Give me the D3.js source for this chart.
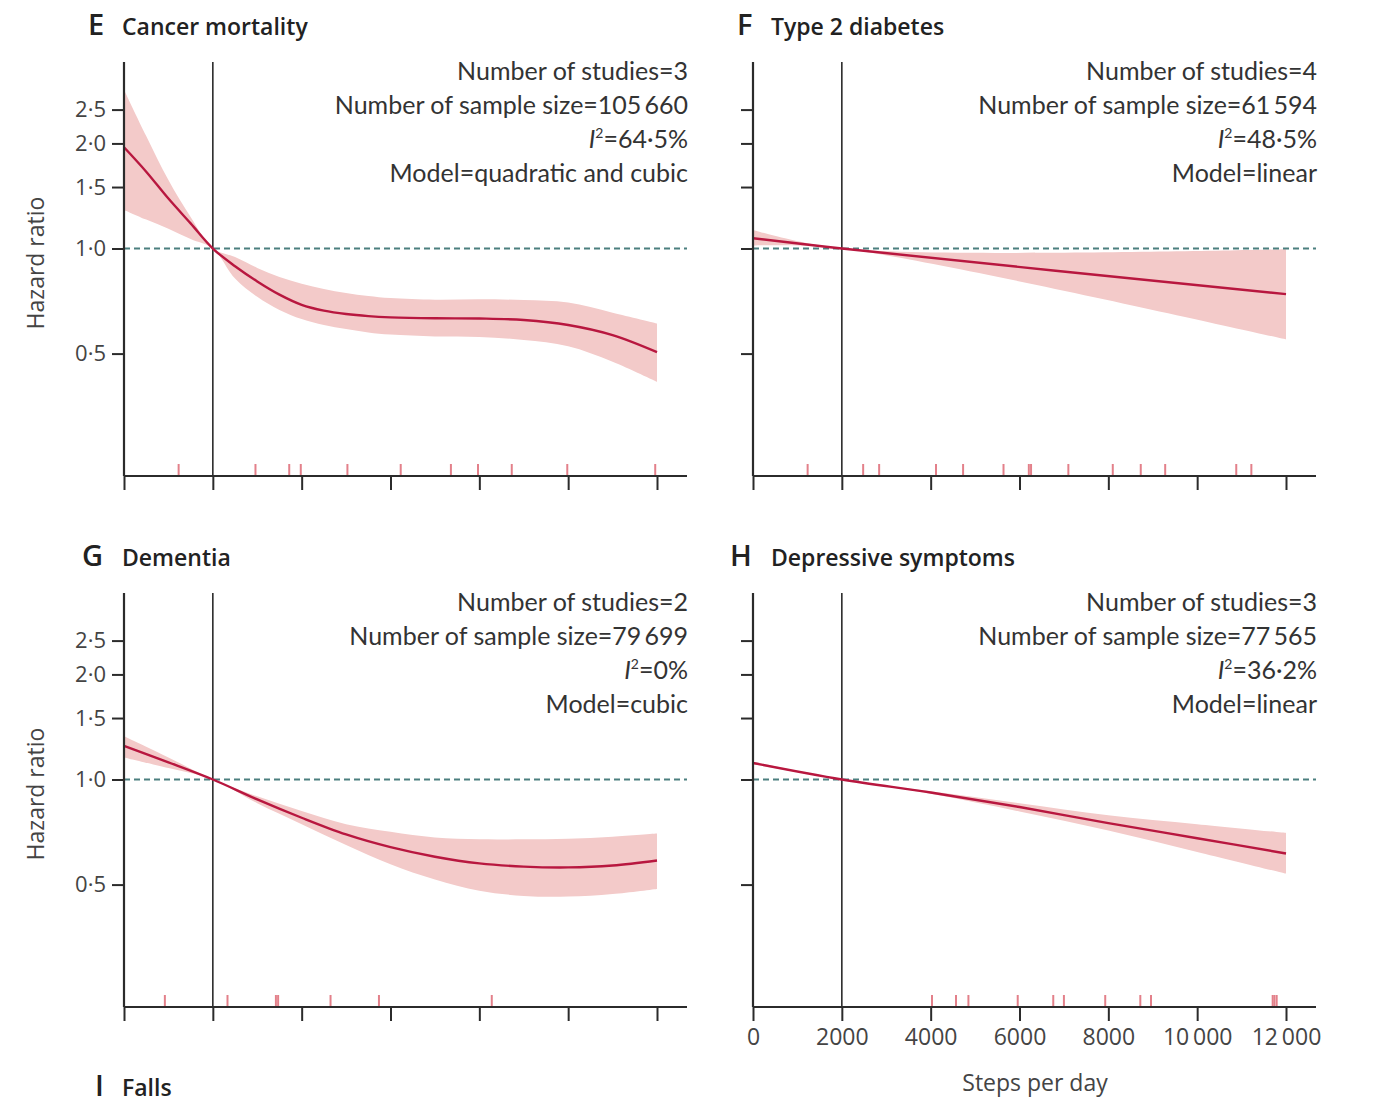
<!DOCTYPE html>
<html lang="en">
<head>
<meta charset="utf-8">
<title>Steps per day and hazard ratio</title>
<script src="https://cdn.jsdelivr.net/npm/d3@7"></script>
<style>
  body { margin: 0; background: #fff; }
  svg text { font-family: "Open Sans", sans-serif; fill: #333; }
  .title { font-weight: 600; }
  .note { font-family: Lato, "Open Sans", sans-serif; }
</style>
</head>
<body>
<svg id="chart" width="1379" height="1119"></svg>
<script>
// ---- data ----
var yTicks = [0.5, 1.0, 1.5, 2.0, 2.5];
var yTickLabels = ["0·5", "1·0", "1·5", "2·0", "2·5"];
var xTicks = [0, 2000, 4000, 6000, 8000, 10000, 12000];
var xTickLabels = ["0", "2000", "4000", "6000", "8000", "10\u2009000", "12\u2009000"];

// E cancer mortality
var cancerSteps = [0, 500, 1000, 1500, 2000, 2500, 3000, 3500, 4000, 4500, 5000, 5500, 6000, 7000, 8000, 9000, 10000, 11000, 12000];
var cancerHR    = [1.95, 1.66, 1.39, 1.18, 1.0, 0.89, 0.805, 0.738, 0.69, 0.664, 0.649, 0.64, 0.635, 0.631, 0.63, 0.624, 0.604, 0.565, 0.505];
var cancerHi    = [2.85, 2.1, 1.57, 1.23, 1.0, 0.945, 0.88, 0.828, 0.792, 0.766, 0.746, 0.731, 0.721, 0.713, 0.715, 0.712, 0.70, 0.655, 0.61];
var cancerLo    = [1.29, 1.21, 1.14, 1.065, 1.0, 0.82, 0.727, 0.667, 0.628, 0.604, 0.588, 0.575, 0.567, 0.56, 0.558, 0.547, 0.525, 0.474, 0.415];
var cancerRug   = [1230, 2960, 3720, 3980, 5030, 6230, 7360, 7970, 8730, 9980, 11960];

// F type 2 diabetes
var diabetesSteps = [0, 2000, 12000];
var diabetesHR    = [1.07, 1.0, 0.74];
var diabetesHi    = [1.13, 1.0, 0.995];
var diabetesLo    = [1.02, 1.0, 0.549];
var diabetesRug   = [1230, 2480, 2840, 4120, 4730, 5640, 6210, 6260, 7100, 8100, 8730, 9280, 10880, 11220];

// G dementia
var dementiaSteps = [0, 1000, 2000, 3000, 4000, 5000, 6000, 7000, 8000, 9000, 10000, 11000, 12000];
var dementiaHR    = [1.248, 1.12, 1.0, 0.877, 0.777, 0.696, 0.64, 0.601, 0.575, 0.563, 0.56, 0.567, 0.586];
var dementiaHi    = [1.33, 1.157, 1.0, 0.895, 0.813, 0.745, 0.708, 0.682, 0.674, 0.674, 0.677, 0.686, 0.70];
var dementiaLo    = [1.157, 1.078, 1.0, 0.855, 0.745, 0.649, 0.572, 0.517, 0.48, 0.464, 0.462, 0.47, 0.486];
var dementiaRug   = [920, 2330, 3420, 3470, 4650, 5740, 8280];

// H depressive symptoms
var depressSteps = [0, 2000, 4000, 6000, 8000, 10000, 12000];
var depressHR    = [1.115, 1.0, 0.918, 0.834, 0.75, 0.679, 0.614];
var depressHi    = [1.125, 1.0, 0.925, 0.855, 0.79, 0.745, 0.703];
var depressLo    = [1.105, 1.0, 0.91, 0.81, 0.714, 0.62, 0.537];
var depressRug   = [4030, 4570, 4850, 5960, 6760, 7000, 7930, 8720, 8960, 11700, 11740, 11790];

var panels = [
  { letter: "E", title: "Cancer mortality", x: 124, y: 62, letterDx: -36, titleDx: -2,
    steps: cancerSteps, hr: cancerHR, hi: cancerHi, lo: cancerLo, rug: cancerRug,
    notes: ["Number of studies=3", "Number of sample size=105\u2009660", "64·5%", "Model=quadratic and cubic"],
    yLabels: true, xLabels: false },
  { letter: "F", title: "Type 2 diabetes", x: 753, y: 62, letterDx: -16, titleDx: 18,
    steps: diabetesSteps, hr: diabetesHR, hi: diabetesHi, lo: diabetesLo, rug: diabetesRug,
    notes: ["Number of studies=4", "Number of sample size=61\u2009594", "48·5%", "Model=linear"],
    yLabels: false, xLabels: false },
  { letter: "G", title: "Dementia", x: 124, y: 593, letterDx: -42, titleDx: -2,
    steps: dementiaSteps, hr: dementiaHR, hi: dementiaHi, lo: dementiaLo, rug: dementiaRug,
    notes: ["Number of studies=2", "Number of sample size=79\u2009699", "0%", "Model=cubic"],
    yLabels: true, xLabels: false },
  { letter: "H", title: "Depressive symptoms", x: 753, y: 593, letterDx: -23, titleDx: 18,
    steps: depressSteps, hr: depressHR, hi: depressHi, lo: depressLo, rug: depressRug,
    notes: ["Number of studies=3", "Number of sample size=77\u2009565", "36·2%", "Model=linear"],
    yLabels: false, xLabels: true }
];

// ---- drawing ----
var svg = d3.select("#chart");
var w = 563, h = 414;

var x = d3.scaleLinear().domain([0, 12000]).range([0, 533]);
var y = d3.scaleLog().domain([0.223, 3.422]).range([h, 0]);

var axisColor = "#2b2b2b";
var lineColor = "#b8173f";
var bandColor = "#f3cac9";
var rugColor = "#e3808a";
var refColor = "#4b7f7f";

panels.forEach(function(p) {
  var g = svg.append("g").attr("transform", "translate(" + p.x + "," + p.y + ")");

  // title
  svg.append("text").attr("class", "title")
    .attr("x", p.x + p.letterDx).attr("y", p.y - 27)
    .attr("font-size", 29).style("fill", "#222")
    .text(p.letter);
  svg.append("text").attr("class", "title")
    .attr("x", p.x + p.titleDx).attr("y", p.y - 27)
    .attr("font-size", 23).style("fill", "#222")
    .text(p.title);

  var pts = p.steps.map(function(s, i) { return { s: s, hr: p.hr[i], hi: p.hi[i], lo: p.lo[i] }; });

  // confidence band
  var area = d3.area()
    .x(function(d) { return x(d.s); })
    .y0(function(d) { return y(d.lo); })
    .y1(function(d) { return y(d.hi); })
    .curve(d3.curveCatmullRom.alpha(0.5));
  g.append("path").datum(pts).attr("d", area).attr("fill", bandColor);

  // reference HR = 1
  g.append("line")
    .attr("x1", 0).attr("x2", w)
    .attr("y1", y(1)).attr("y2", y(1))
    .attr("stroke", refColor).attr("stroke-width", 2)
    .attr("stroke-dasharray", "6,4");

  // reference 2000 steps
  g.append("line")
    .attr("x1", x(2000)).attr("x2", x(2000))
    .attr("y1", 0).attr("y2", h)
    .attr("stroke", axisColor).attr("stroke-width", 1.6);

  // main curve
  var line = d3.line()
    .x(function(d) { return x(d.s); })
    .y(function(d) { return y(d.hr); })
    .curve(d3.curveCatmullRom.alpha(0.5));
  g.append("path").datum(pts).attr("d", line)
    .attr("fill", "none").attr("stroke", lineColor).attr("stroke-width", 2.4);

  // rug of study step values
  g.selectAll(".rug").data(p.rug).enter().append("line")
    .attr("x1", function(d) { return x(d); }).attr("x2", function(d) { return x(d); })
    .attr("y1", h - 12).attr("y2", h)
    .attr("stroke", rugColor).attr("stroke-width", 2);

  // y axis
  var yAxis = d3.axisLeft(y).tickValues(yTicks).tickSize(12).tickPadding(6)
    .tickFormat(function(d, i) { return p.yLabels ? yTickLabels[i] : ""; });
  var ya = g.append("g").call(yAxis);
  ya.select(".domain").remove();
  ya.append("line").attr("x1", 0).attr("x2", 0).attr("y1", 0).attr("y2", h)
    .attr("stroke", axisColor).attr("stroke-width", 2.2);
  ya.selectAll(".tick line").attr("stroke", axisColor).attr("stroke-width", 2);
  ya.selectAll(".tick text").attr("font-size", 22).style("fill", "#444")
    .style("font-family", "'Open Sans', sans-serif");

  // x axis
  var xAxis = d3.axisBottom(x).tickValues(xTicks).tickSize(14).tickPadding(8)
    .tickFormat(function(d, i) { return p.xLabels ? xTickLabels[i] : ""; });
  var xa = g.append("g").attr("transform", "translate(0," + h + ")").call(xAxis);
  xa.select(".domain").remove();
  xa.append("line").attr("x1", 0).attr("x2", w).attr("y1", 0).attr("y2", 0)
    .attr("stroke", axisColor).attr("stroke-width", 2.2);
  xa.selectAll(".tick line").attr("stroke", axisColor).attr("stroke-width", 2);
  xa.selectAll(".tick text").attr("font-size", 23).style("fill", "#444")
    .style("font-family", "'Open Sans', sans-serif");

  if (p.yLabels) {
    g.append("text")
      .attr("transform", "translate(" + (-80) + "," + (h / 2 - 6) + ") rotate(-90)")
      .attr("text-anchor", "middle").attr("font-size", 23).style("fill", "#444")
      .text("Hazard ratio");
  }
  if (p.xLabels) {
    g.append("text")
      .attr("x", 282).attr("y", h + 84)
      .attr("text-anchor", "middle").attr("font-size", 23).style("fill", "#444")
      .text("Steps per day");
  }

  // study notes, right aligned
  var notes = g.append("g").attr("class", "notes").attr("text-anchor", "end").attr("font-size", 25);
  p.notes.forEach(function(n, i) {
    var tx = notes.append("text").attr("class", "note")
      .attr("x", w + 1).attr("y", 18 + i * 34).style("fill", "#333");
    if (i === 2) {
      tx.append("tspan").attr("font-style", "italic").text("I");
      tx.append("tspan").attr("font-size", 14).attr("dy", -10).text("2");
      tx.append("tspan").attr("dy", 10).text("=" + n);
    } else {
      tx.text(n);
    }
  });
});

// next panel heading, cut off at the bottom
svg.append("text").attr("class", "title").attr("x", 95).attr("y", 1096)
  .attr("font-size", 29).style("fill", "#222").text("I");
svg.append("text").attr("class", "title").attr("x", 122).attr("y", 1096)
  .attr("font-size", 23).style("fill", "#222").text("Falls");
</script>
</body>
</html>
